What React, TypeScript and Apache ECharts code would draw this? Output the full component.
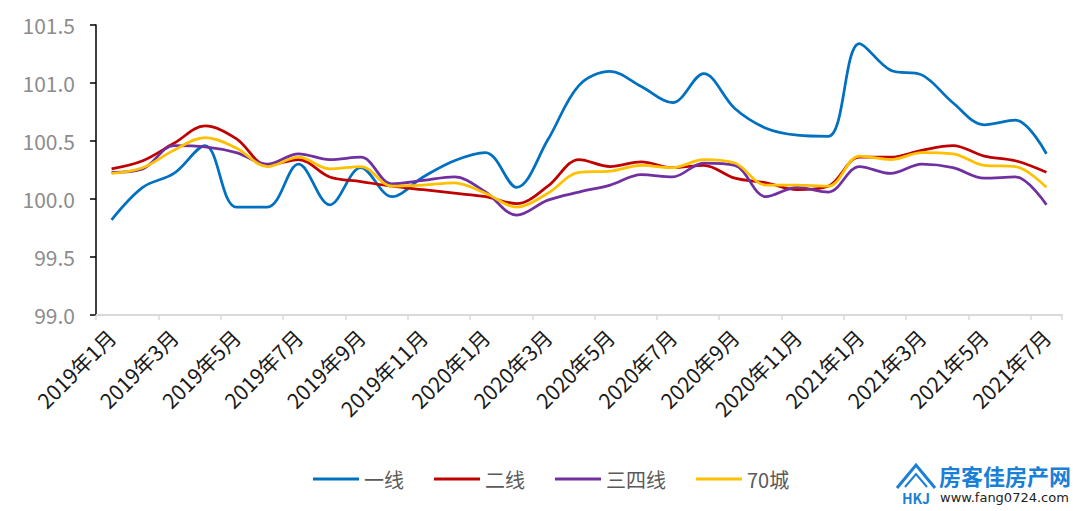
import React, { useEffect, useRef } from "react";
import * as echarts from "echarts";

const categories = [
  "2019年1月", "2019年2月", "2019年3月", "2019年4月", "2019年5月", "2019年6月",
  "2019年7月", "2019年8月", "2019年9月", "2019年10月", "2019年11月", "2019年12月",
  "2020年1月", "2020年2月", "2020年3月", "2020年4月", "2020年5月", "2020年6月",
  "2020年7月", "2020年8月", "2020年9月", "2020年10月", "2020年11月", "2020年12月",
  "2021年1月", "2021年2月", "2021年3月", "2021年4月", "2021年5月", "2021年6月",
  "2021年7月",
];

const tier1 = [
  99.82, 100.1, 100.22, 100.46, 99.93, 99.93, 100.3, 99.95, 100.27, 100.02, 100.19, 100.33,
  100.4, 100.1, 100.51, 100.98, 101.1, 100.97, 100.83, 101.08, 100.78, 100.61, 100.55, 100.54,
  101.34, 101.11, 101.07, 100.83, 100.64, 100.68, 100.39,
];
const tier2 = [
  100.26, 100.33, 100.48, 100.63, 100.52, 100.29, 100.34, 100.19, 100.15, 100.11, 100.08, 100.05,
  100.02, 99.96, 100.11, 100.34, 100.28, 100.32, 100.27, 100.29, 100.18, 100.14, 100.08, 100.11,
  100.36, 100.36, 100.42, 100.46, 100.37, 100.33, 100.23,
];
const tier34 = [
  100.23, 100.26, 100.46, 100.45, 100.4, 100.3, 100.39, 100.34, 100.36, 100.13, 100.16, 100.19,
  100.06, 99.86, 99.99, 100.06, 100.12, 100.21, 100.19, 100.31, 100.29, 100.02, 100.1, 100.06,
  100.28, 100.22, 100.3, 100.27, 100.18, 100.19, 99.95,
];
const city70 = [
  100.22, 100.27, 100.42, 100.53, 100.44, 100.28, 100.36, 100.26, 100.28, 100.11, 100.12, 100.14,
  100.05, 99.93, 100.05, 100.23, 100.24, 100.29, 100.27, 100.34, 100.31, 100.12, 100.12, 100.11,
  100.37, 100.34, 100.4, 100.39, 100.29, 100.28, 100.1,
];

const seriesNames = ["一线", "二线", "三四线", "70城"];
const seriesColors = ["#0070C0", "#C00000", "#7030A0", "#FFC000"];
const seriesData = [tier1, tier2, tier34, city70];

const FONT = "'Noto Sans CJK SC', 'Noto Sans', sans-serif";

export default function App() {
  const ref = useRef<HTMLDivElement>(null);
  useEffect(() => {
    document.body.style.margin = "0";
    const chart = echarts.init(ref.current!, null, { renderer: "svg" });
    chart.setOption({
      animation: false,
      textStyle: { fontFamily: FONT },
      grid: { left: 96, right: 18, top: 25, bottom: 196, containLabel: false },
      legend: {
        data: seriesNames,
        left: 308,
        top: 464,
        icon: "rect",
        itemWidth: 46,
        itemHeight: 3,
        itemGap: 30,
        textStyle: { color: "#595959", fontSize: 20, fontFamily: FONT },
      },
      xAxis: {
        type: "category",
        data: categories,
        boundaryGap: true,
        axisLine: { lineStyle: { color: "#d9d9d9", width: 2 } },
        axisTick: { show: true, interval: 1, length: 5, lineStyle: { color: "#d9d9d9", width: 1.5 } },
        axisLabel: {
          interval: 1,
          rotate: 45,
          color: "#1a1a1a",
          fontSize: 21,
          margin: 18,
          fontFamily: FONT,
        },
        splitLine: { show: false },
      },
      yAxis: {
        type: "value",
        min: 99,
        max: 101.5,
        interval: 0.5,
        axisLine: { show: true, lineStyle: { color: "#000", width: 1.5 } },
        axisTick: { show: true, length: 6, lineStyle: { color: "#000", width: 1.5 } },
        axisLabel: {
          color: "#8c8c8c",
          fontSize: 21,
          margin: 21,
          fontFamily: FONT,
          formatter: (v: number) => v.toFixed(1),
        },
        splitLine: { show: false },
      },
      series: seriesNames.map((name, i) => ({
        name,
        type: "line",
        data: seriesData[i],
        smooth: 0.35,
        showSymbol: false,
        symbol: "none",
        itemStyle: { color: seriesColors[i] },
        lineStyle: { color: seriesColors[i], width: 2.75 },
      })),
      graphic: [
        {
          type: "polyline",
          shape: { points: [[897, 488], [916, 465], [935, 488]] },
          style: { stroke: "#1a7fd6", lineWidth: 3, fill: "none" },
        },
        {
          type: "polyline",
          shape: { points: [[905, 487], [916, 474], [927, 487]] },
          style: { stroke: "#1a7fd6", lineWidth: 2, fill: "none" },
        },
        {
          type: "text",
          x: 916,
          y: 498,
          style: {
            text: "HKJ",
            fill: "#1a7fd6",
            fontSize: 14,
            fontWeight: "bold",
            align: "center",
            verticalAlign: "middle",
            fontFamily: FONT,
          },
        },
        {
          type: "text",
          x: 939,
          y: 475,
          style: {
            text: "房客佳房产网",
            fill: "#1a7fd6",
            fontSize: 22,
            fontWeight: "bold",
            verticalAlign: "middle",
            fontFamily: FONT,
          },
        },
        {
          type: "text",
          x: 940,
          y: 497,
          style: {
            text: "www.fang0724.com",
            fill: "#222",
            fontSize: 13,
            verticalAlign: "middle",
            fontFamily: "'DejaVu Sans', sans-serif",
          },
        },
      ],
    });
    return () => chart.dispose();
  }, []);
  return <div ref={ref} style={{ width: 1080, height: 511 }} />;
}
